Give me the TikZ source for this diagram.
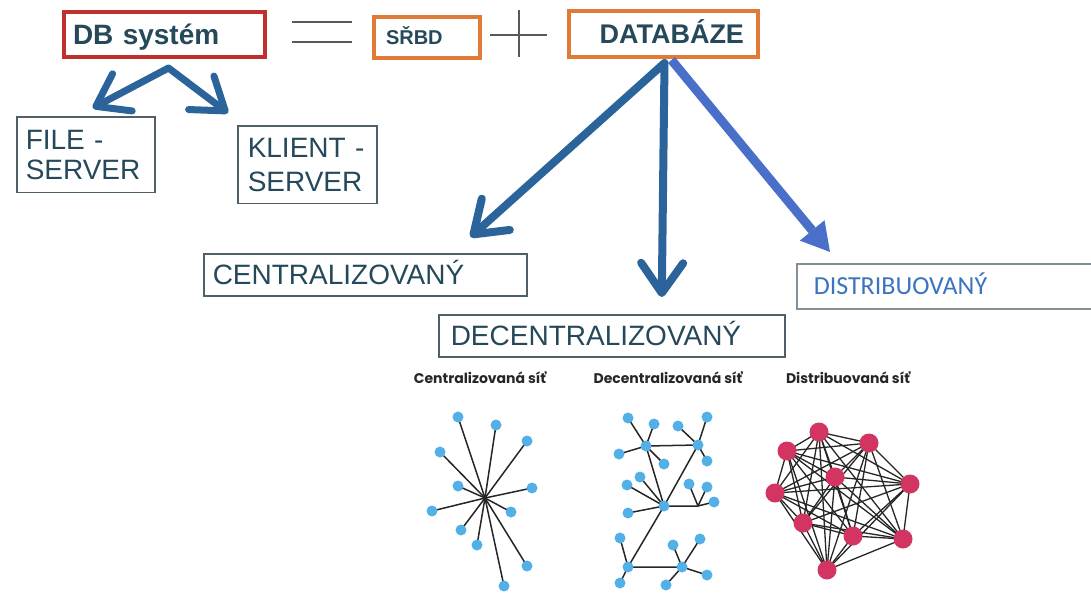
\documentclass[tikz,border=0pt]{standalone}
\usepackage{fontspec}
\setmainfont{Liberation Sans}
\newfontfamily\calfont{Carlito}
\newfontfamily\netfont{Poppins}
\usetikzlibrary{arrows.meta,calc}
\definecolor{textcol}{HTML}{25495A}
\definecolor{dbred}{HTML}{C0312E}
\definecolor{boxorange}{HTML}{E07A36}
\definecolor{framecol}{HTML}{4E6168}
\definecolor{arrowdark}{HTML}{2A649A}
\definecolor{arrowlight}{HTML}{4A6FC9}
\definecolor{distblue}{HTML}{3A73BE}
\definecolor{netblue}{HTML}{52B0E6}
\definecolor{netred}{HTML}{D23561}

\begin{document}
\begin{tikzpicture}[x=1pt, y=-1pt,
thickbox/.style={draw, line width=4pt, text=textcol, anchor=north west, align=left},
thinbox/.style={draw=framecol, line width=1.5pt, text=textcol, anchor=north west, align=left,
    font=\fontsize{28}{30}\selectfont},
oneline/.style={text height=20pt, text depth=0pt},
opline/.style={draw=black!65, line width=1.2pt},
barbarrow/.style={draw=arrowdark, line width=7pt, line join=round,
    {Straight Barb[length=30pt,width=42pt,round]}-{Straight Barb[length=30pt,width=42pt,round]}},
netline/.style={draw=black!85, line width=1.5pt},
cdot/.style={circle, fill=netblue, inner sep=0pt, minimum size=11pt},
rdot/.style={circle, fill=netred, inner sep=0pt, minimum size=19pt},
netlabel/.style={font=\netfont\bfseries\fontsize{14}{16}\selectfont, text=black!85}]
\useasboundingbox (0,0) rectangle (1091,592);
\clip (0,0) rectangle (1091,592);

\node[thickbox, draw=dbred, font=\bfseries\fontsize{28}{30}\selectfont, oneline,
  text width=183pt, inner xsep=9pt, minimum height=45pt] (db) at (62,10) {DB systém};
\draw[opline] (292,22) -- (352,22) (292,42) -- (352,42);
\node[thickbox, draw=boxorange, font=\bfseries\fontsize{20}{22}\selectfont, text height=14.3pt, text depth=0pt,
  text width=82pt, inner xsep=12pt, minimum height=41pt] (srbd) at (372,15) {SŘBD};
\draw[opline] (490,35) -- (547,35) (519,10) -- (519,57);
\node[thickbox, draw=boxorange, font=\bfseries\fontsize{27}{29}\selectfont, text height=19.3pt, text depth=0pt,
  text width=161pt, inner xsep=14pt, minimum height=46pt, align=right] (dbz) at (567,9) {DATABÁZE};

\node[thinbox, text width=120pt, inner xsep=9pt, inner ysep=13pt] (file) at (16,116) {FILE -\\SERVER};
\node[thinbox, font=\fontsize{28}{34}\selectfont, text width=119pt, inner xsep=10pt, inner ysep=12pt]
  (klient) at (237,125) {KLIENT -\\SERVER};

\node[thinbox, oneline, text width=305pt, inner xsep=9pt, minimum height=42pt] (cent) at (203,253) {CENTRALIZOVANÝ};
\node[thinbox, oneline, text width=322pt, inner xsep=12pt, minimum height=42pt] (dec) at (438,314) {DECENTRALIZOVANÝ};
\node[thinbox, draw=framecol!70, font=\calfont\fontsize{26}{28}\selectfont, text=distblue, text height=16.7pt,
  text depth=0pt, text width=280pt, inner xsep=17pt, minimum height=45pt] (dist) at (796,263) {DISTRIBUOVANÝ};

% arrows
\coordinate (dbfork) at ($(db.south)+(4,9)$);
\coordinate (filetip) at ($(file.north)+(7,-8)$);
\coordinate (klienttip) at ($(klient.north west)+(-9,-12)$);
\draw[barbarrow] (filetip) -- (dbfork) -- (klienttip);

\coordinate (dbzfork) at ($(dbz.south)+(1,4)$);
\coordinate (centtip) at ($(cent.north east)+(-57,-16)$);
\coordinate (dectip) at ($(dec.north)+(50,-17)$);
\coordinate (disttip) at ($(dist.north west)+(34,-11)$);
\draw[barbarrow, line width=8pt] (centtip) -- (dbzfork) -- (dectip);
\draw[draw=arrowlight, fill=arrowlight, line width=9pt, -{Triangle[length=28pt,width=32pt,line width=0pt]}]
  ($(dbz.south)+(8,1)$) -- (disttip);

% networks
\node[netlabel] (lblcent) at (480,378) {Centralizovaná síť};
\node[netlabel] (lbldec) at (668,378) {Decentralizovaná síť};
\node[netlabel] (lbldist) at (848,378) {Distribuovaná síť};

\coordinate (hub) at (485,498);
\foreach \x/\y [count=\i] in {458/417, 496/425, 527/441, 440/452, 458/486, 532/488,
    432/511, 511/512, 461/530, 477/545, 527/566, 504/586}
  \draw[netline] (hub) -- (\x,\y) coordinate (c\i);
\foreach \i in {1,...,12} \node[cdot] (cd\i) at (c\i) {};

\coordinate (h1) at (646,446);
\coordinate (h2) at (698,445);
\coordinate (h3) at (664,506);
\coordinate (hj) at (698,506);
\coordinate (h5) at (628,567);
\coordinate (h6) at (682,567);
\draw[netline] (h1) -- (h2) -- (h3) -- (h1) (h3) -- (hj) (h3) -- (h5) -- (h6);
\foreach \hb/\x/\y [count=\i] in {h1/628/418, h1/654/424, h1/619/454, h1/664/464,
    h2/678/426, h2/707/417, h2/707/461, h3/627/485, h3/640/477, h3/628/513,
    hj/689/484, hj/707/487, hj/714/502, h5/620/538, h5/620/583,
    h6/673/545, h6/700/539, h6/707/575, h6/666/585}
  \draw[netline] (\hb) -- (\x,\y) coordinate (d\i);
\foreach \n in {h1,h2,h3,h5,h6} \node[cdot] (dot\n) at (\n) {};
\foreach \i in {1,...,19} \node[cdot] (dot\i) at (d\i) {};

\foreach \x/\y [count=\i] in {819/432, 869/443, 787/451, 835/477, 910/484,
    775/493, 803/523, 853/536, 903/539, 827/570}
  \coordinate (r\i) at (\x,\y);
\foreach \i in {1,...,9}{
  \pgfmathtruncatemacro{\nxt}{\i+1}
  \foreach \j in {\nxt,...,10} \draw[netline, line width=1.3pt] (r\i) -- (r\j);
}
\foreach \i in {1,...,10} \node[rdot] (rd\i) at (r\i) {};
\end{tikzpicture}
\end{document}
